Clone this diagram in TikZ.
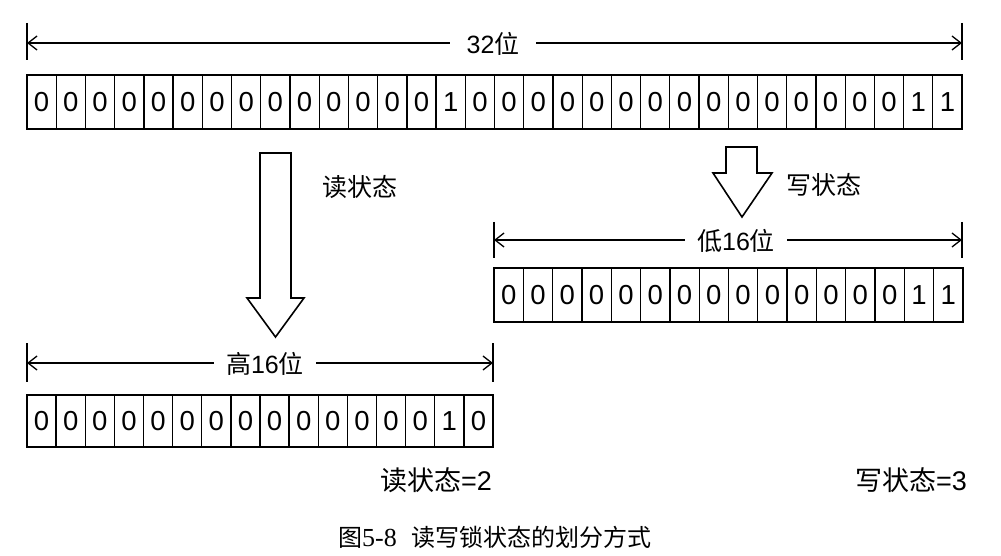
\documentclass[tikz,border=0pt]{standalone}
\usepackage{fontspec}
\setmainfont{Liberation Sans}
\newfontfamily\cjk{Noto Sans CJK SC}
\newfontfamily\capserif{Liberation Serif}
\usetikzlibrary{arrows.meta}
\begin{document}
\begin{tikzpicture}[x=1pt,y=-1pt,
  cell/.style={draw, line width=1.3pt, minimum height=54pt, inner sep=0pt, outer sep=0pt,
    anchor=north west, font=\fontsize{27.5}{27.5}\selectfont},
  dimline/.style={line width=1.3pt, {Straight Barb[length=9pt,width=14pt,line width=1.3pt]}-{Straight Barb[length=9pt,width=14pt,line width=1.3pt]}},
  tickline/.style={line width=1.8pt},
  dimlabel/.style={fill=white, inner xsep=12pt, inner ysep=2pt, font=\fontsize{25}{25}\selectfont},
  lab/.style={inner sep=0pt, font=\fontsize{25}{25}\selectfont},
  reslab/.style={inner sep=0pt, anchor=west, font=\fontsize{27}{27}\selectfont},
  bigarrow/.style={draw, line width=1.6pt, line join=miter, fill=white}
]
\useasboundingbox (0,0) rectangle (1001,556);

% ---- top 32-bit dimension ----
\coordinate (tl) at (27,43);
\coordinate (tr) at (962,43);
\draw[tickline] ([yshift=20pt]tl) -- ([yshift=-17pt]tl);
\draw[tickline] ([yshift=20pt]tr) -- ([yshift=-17pt]tr);
\draw[dimline] (tl) -- (tr);
\node[dimlabel, inner xsep=17pt] (l32) at (493,44) {32{\cjk 位}};

% ---- top register ----
\foreach \b [count=\i] in {0,0,0,0,0,0,0,0,0,0,0,0,0,0,1,0,0,0,0,0,0,0,0,0,0,0,0,0,0,0,1,1}
  \node[cell, minimum width=29.22pt] (t\i) at ({27+(\i-1)*29.22},75) {\b};

% ---- read arrow ----
\draw[bigarrow] (260,153) -- (291,153) -- (291,298) -- (304,298) -- (275.5,337) -- (247,298) -- (260,298) -- cycle;
\node[lab] (rlab) at (360,187) {\cjk 读状态};

% ---- write arrow ----
\draw[bigarrow] (726,147) -- (757,147) -- (757,173) -- (772,173) -- (742,217) -- (713,173) -- (726,173) -- cycle;
\node[lab] (wlab) at (824,185) {\cjk 写状态};

% ---- low 16 dimension ----
\coordinate (ll) at (494,240);
\coordinate (lr) at (962,240);
\draw[tickline] ([yshift=18pt]ll) -- ([yshift=-18pt]ll);
\draw[tickline] ([yshift=18pt]lr) -- ([yshift=-18pt]lr);
\draw[dimline] (ll) -- (lr);
\node[dimlabel] (l16) at (736,241) {{\cjk 低}16{\cjk 位}};

% ---- low register ----
\foreach \b [count=\i] in {0,0,0,0,0,0,0,0,0,0,0,0,0,0,1,1}
  \node[cell, minimum width=29.31pt] (w\i) at ({494+(\i-1)*29.31},268) {\b};

% ---- high 16 dimension ----
\coordinate (hl) at (27,363);
\coordinate (hr) at (493,363);
\draw[tickline] ([yshift=20pt]hl) -- ([yshift=-19pt]hl);
\draw[tickline] ([yshift=20pt]hr) -- ([yshift=-19pt]hr);
\draw[dimline] (hl) -- (hr);
\node[dimlabel] (h16) at (265,364) {{\cjk 高}16{\cjk 位}};

% ---- high register ----
\foreach \b [count=\i] in {0,0,0,0,0,0,0,0,0,0,0,0,0,0,1,0}
  \node[cell, minimum width=29.125pt, minimum height=52pt] (r\i) at ({27+(\i-1)*29.125},395) {\b};

% ---- results ----
\node[reslab] (rres) at (380,480) {{\cjk 读状态}=2};
\node[reslab] (wres) at (855,480) {{\cjk 写状态}=3};

% ---- caption ----
\node[inner sep=0pt, anchor=west, font=\fontsize{24}{24}\selectfont] (cap) at (338,537)
  {{\cjk 图}{\capserif\fontsize{26}{26}\selectfont 5-8}\hspace{15pt}{\cjk 读写锁状态的划分方式}};
\end{tikzpicture}
\end{document}
